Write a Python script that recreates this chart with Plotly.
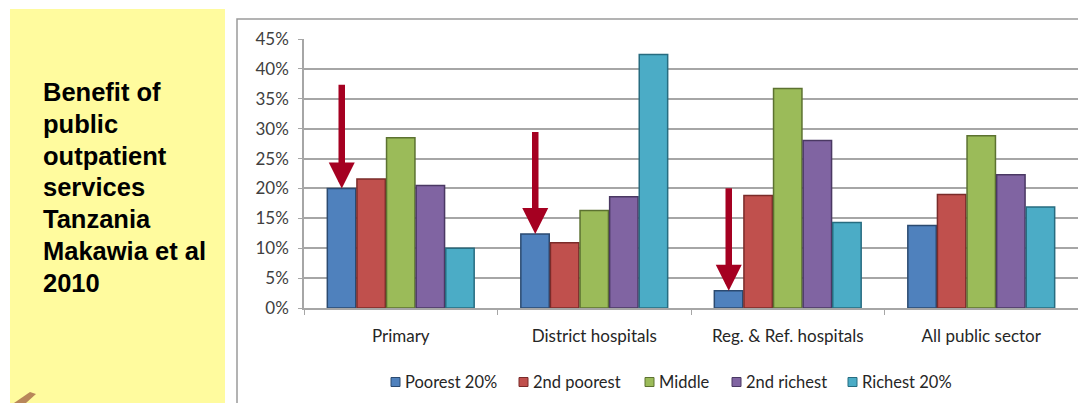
import plotly.graph_objects as go

categories = ["Primary", "District hospitals", "Reg. & Ref. hospitals", "All public sector"]
series_names = ["Poorest 20%", "2nd poorest", "Middle", "2nd richest", "Richest 20%"]
poorest = [20.0, 12.4, 2.9, 13.8]
second_poorest = [21.6, 10.9, 18.8, 19.0]
middle = [28.5, 16.3, 36.7, 28.8]
second_richest = [20.5, 18.6, 28.0, 22.3]
richest = [10.0, 42.4, 14.3, 16.9]
arrow_tops = [37.6, 29.7, 20.3]  # arrow start levels (%) above the poorest bars
y_ticks = [0, 5, 10, 15, 20, 25, 30, 35, 40, 45]
title_lines = ["Benefit of", "public", "outpatient", "services", "Tanzania", "Makawia et al", "2010"]

colors = ["#4F81BD", "#C0504D", "#9BBB59", "#8064A2", "#4BACC6"]
edges = ["#2B4A70", "#7A2B29", "#5C7230", "#4A3863", "#276C80"]

# page offset (body margin) and figure size
OFF = 8
W, H = 1086 - OFF, 403 - OFF
# plot area in page pixels: x 304..1078, y 39..308
L, R, T, B = 304 - OFF, 1086 - 1078, 39 - OFF, 403 - 308
PW = W - L - R
PH = H - T - B


def px_x(p):
    return (p - OFF - L) / PW


def px_y(p):
    return 1 - (p - OFF - T) / PH


FONT = "Lato, Open Sans, sans-serif"

fig = go.Figure()
for name, vals, c, e in zip(series_names, [poorest, second_poorest, middle, second_richest, richest], colors, edges):
    fig.add_trace(go.Bar(
        x=categories, y=vals, name=name,
        marker=dict(color=c, line=dict(color=e, width=1.5)),
    ))

shapes = [
    # yellow side panel
    dict(type="rect", xref="paper", yref="paper", x0=px_x(10), x1=px_x(225), y0=px_y(9), y1=px_y(410),
         fillcolor="#FFFB9E", line=dict(width=0), layer="below"),
    # chart frame
    dict(type="rect", xref="paper", yref="paper", x0=px_x(237), x1=px_x(1095), y0=px_y(19), y1=px_y(420),
         fillcolor="rgba(0,0,0,0)", line=dict(color="#9A9A9A", width=1.5), layer="below"),
    # small brown logo corner
    dict(type="path", xref="paper", yref="paper",
         path=f"M {px_x(14)} {px_y(403)} L {px_x(30)} {px_y(392)} L {px_x(36)} {px_y(394)} L {px_x(26)} {px_y(403)} Z",
         fillcolor="#B8875A", line=dict(width=0)),
]

annotations = []
# side title, one line per annotation for exact line spacing
for i, line in enumerate(title_lines):
    annotations.append(dict(xref="paper", yref="paper", x=px_x(41), y=px_y(92 + i * 31.8),
                            xanchor="left", yanchor="middle", text=f"<b>{line}</b>", showarrow=False,
                            font=dict(family="Liberation Sans, Arial", size=25.5, color="#000000")))

# manual legend (square + label) laid out like the original
legend_text_x = [403, 531, 657, 744, 860]
legend_y = 382
for name, c, e, tx in zip(series_names, colors, edges, legend_text_x):
    shapes.append(dict(type="rect", xref="paper", yref="paper",
                       x0=px_x(tx - 12), x1=px_x(tx - 3), y0=px_y(legend_y - 4.5), y1=px_y(legend_y + 4.5),
                       fillcolor=c, line=dict(color=e, width=1)))
    annotations.append(dict(xref="paper", yref="paper", x=px_x(tx), y=px_y(legend_y),
                            xanchor="left", yanchor="middle", text=name, showarrow=False,
                            font=dict(family=FONT, size=16.5, color="#262626")))

bar_w = 29.5
for i, top in enumerate(arrow_tops):
    annotations.append(dict(
        x=categories[i], y=poorest[i], xref="x", yref="y",
        ax=categories[i], ay=top, axref="x", ayref="y",
        xshift=-2 * bar_w, showarrow=True, arrowhead=2, arrowsize=0.8, arrowwidth=6.5,
        arrowcolor="#A50021", text="", standoff=0,
    ))

fig.update_layout(
    width=W, height=H,
    margin=dict(l=L, r=R, t=T, b=B),
    paper_bgcolor="white", plot_bgcolor="white",
    barmode="group", bargap=0.235, bargroupgap=0.04,
    shapes=shapes, annotations=annotations,
    font=dict(family=FONT, size=17, color="#404040"),
    showlegend=False,
)
fig.update_yaxes(range=[0, 45], tickvals=y_ticks, ticktext=[f"{v}%" for v in y_ticks],
                 showgrid=True, gridcolor="#A6A6A6", gridwidth=1.5,
                 showline=True, linecolor="#A6A6A6", linewidth=1.5,
                 ticks="outside", ticklen=4, tickcolor="#A6A6A6", zeroline=False,
                 ticklabelstandoff=6,
                 tickfont=dict(family=FONT, size=17, color="#404040"))
fig.update_xaxes(showline=True, linecolor="#A6A6A6", linewidth=1.5,
                 ticks="outside", tickson="boundaries", ticklen=5, tickcolor="#A6A6A6",
                 ticklabelstandoff=12,
                 tickfont=dict(family=FONT, size=17, color="#262626"))

fig.write_html("out.html")
